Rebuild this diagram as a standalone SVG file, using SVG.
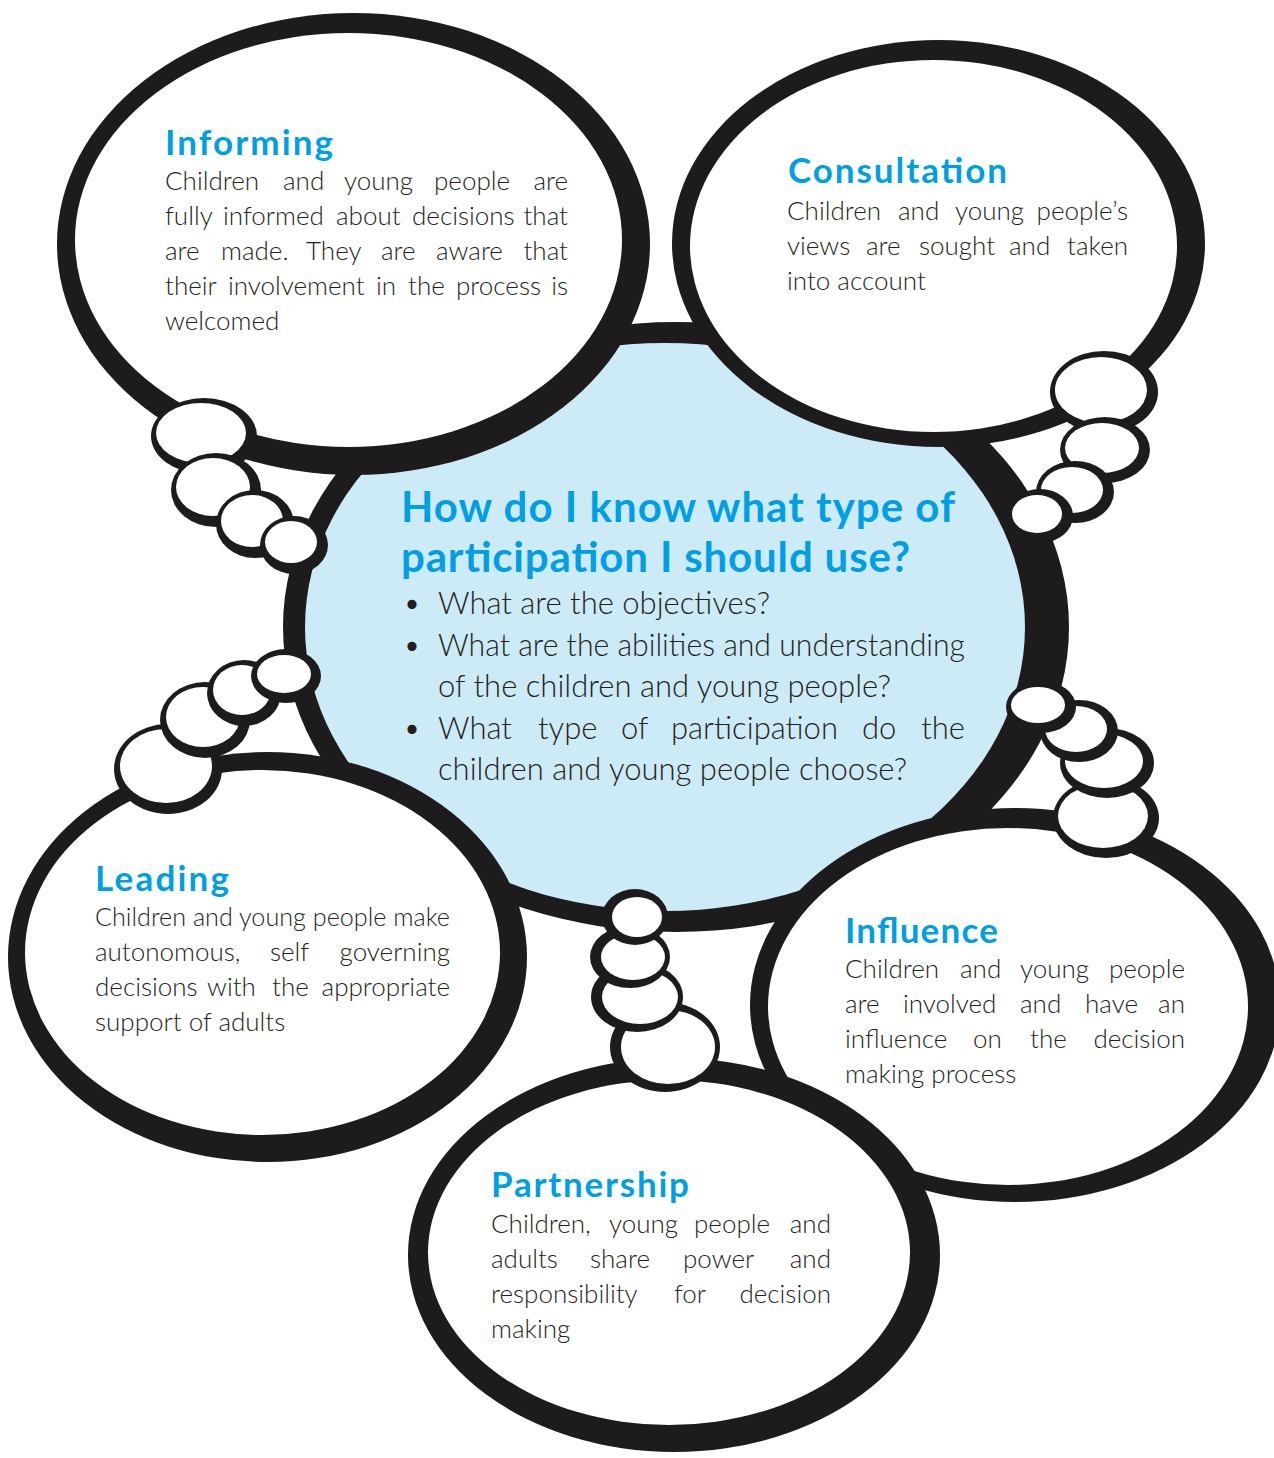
<svg xmlns="http://www.w3.org/2000/svg" width="1274" height="1458" viewBox="0 0 1274 1458">
<style>
.blk{fill:#1d1b1c}
.wht{fill:#ffffff}
.ctr{fill:#cdeaf7}
.hd{font-family:Lato,"Open Sans","Liberation Sans",sans-serif;font-weight:700;fill:#009fe3}
.bd{font-family:Lato,"Open Sans","Liberation Sans",sans-serif;font-weight:300;font-size:26px;fill:#231f20}
.bq{font-family:Lato,"Open Sans","Liberation Sans",sans-serif;font-weight:300;font-size:31px;fill:#231f20}
</style>
<rect width="1274" height="1458" fill="#ffffff"/>

<g id="central">
<ellipse class="blk" cx="676" cy="627" rx="393" ry="305"/>
<ellipse class="ctr" cx="665" cy="627" rx="360" ry="284"/>
</g>

<g id="informing">
<ellipse class="blk" cx="353.5" cy="244" rx="296.5" ry="231"/>
<ellipse class="wht" cx="348.5" cy="240" rx="273.5" ry="207"/>
</g>
<g id="consultation">
<ellipse class="blk" cx="938.5" cy="243.5" rx="266.5" ry="203.5"/>
<ellipse class="wht" cx="933.5" cy="246" rx="243.5" ry="186"/>
</g>
<g id="leading">
<ellipse class="blk" cx="267.5" cy="957" rx="259.5" ry="205"/>
<ellipse class="wht" cx="262.5" cy="952.5" rx="237.5" ry="182.5"/>
</g>
<g id="influence">
<ellipse class="blk" cx="1015" cy="1005" rx="265" ry="197"/>
<ellipse class="wht" cx="1008" cy="1006.5" rx="240" ry="178.5"/>
</g>
<g id="partnership">
<ellipse class="blk" cx="674" cy="1255" rx="266" ry="197"/>
<ellipse class="wht" cx="669" cy="1252.5" rx="241" ry="172.5"/>
</g>

<g id="connectors">
<g id="tail-informing">
<ellipse class="blk" cx="204" cy="436" rx="53" ry="38"/><ellipse class="wht" cx="201" cy="433" rx="45" ry="30"/>
<ellipse class="blk" cx="216" cy="490" rx="45" ry="37"/><ellipse class="wht" cx="213" cy="487" rx="37" ry="29"/>
<ellipse class="blk" cx="255" cy="524" rx="39" ry="34"/><ellipse class="wht" cx="252" cy="521" rx="31" ry="26"/>
<ellipse class="blk" cx="294" cy="545" rx="34" ry="29"/><ellipse class="wht" cx="291" cy="542" rx="26" ry="21"/>
</g>
<g id="tail-consultation">
<ellipse class="blk" cx="1104" cy="392" rx="54" ry="41"/><ellipse class="wht" cx="1101" cy="390" rx="46" ry="33"/>
<ellipse class="blk" cx="1105" cy="450" rx="45" ry="33"/><ellipse class="wht" cx="1102" cy="448" rx="37" ry="25"/>
<ellipse class="blk" cx="1075" cy="492" rx="39" ry="31"/><ellipse class="wht" cx="1072" cy="490" rx="31" ry="23"/>
<ellipse class="blk" cx="1040" cy="516" rx="33" ry="27"/><ellipse class="wht" cx="1037" cy="514" rx="25" ry="19"/>
</g>
<g id="tail-leading">
<ellipse class="blk" cx="168" cy="769" rx="54" ry="45"/><ellipse class="wht" cx="166" cy="766" rx="46" ry="37"/>
<ellipse class="blk" cx="205" cy="720" rx="45" ry="38"/><ellipse class="wht" cx="203" cy="717" rx="37" ry="30"/>
<ellipse class="blk" cx="244" cy="693" rx="37" ry="33"/><ellipse class="wht" cx="242" cy="690" rx="29" ry="25"/>
<ellipse class="blk" cx="286" cy="676" rx="35" ry="27"/><ellipse class="wht" cx="284" cy="674" rx="27" ry="19"/>
</g>
<g id="tail-influence">
<ellipse class="blk" cx="1106" cy="818" rx="53" ry="40"/><ellipse class="wht" cx="1103" cy="816" rx="45" ry="32"/>
<ellipse class="blk" cx="1107" cy="763" rx="47" ry="35"/><ellipse class="wht" cx="1104" cy="761" rx="39" ry="27"/>
<ellipse class="blk" cx="1079" cy="731" rx="39" ry="31"/><ellipse class="wht" cx="1076" cy="729" rx="31" ry="23"/>
<ellipse class="blk" cx="1041" cy="707" rx="35" ry="26"/><ellipse class="wht" cx="1038" cy="705" rx="27" ry="18"/>
</g>
<g id="tail-partnership">
<ellipse class="blk" cx="665" cy="1047" rx="55" ry="45"/><ellipse class="wht" cx="668" cy="1047" rx="47" ry="37"/>
<ellipse class="blk" cx="637" cy="997" rx="46" ry="35"/><ellipse class="wht" cx="640" cy="997" rx="38" ry="27"/>
<ellipse class="blk" cx="630" cy="957" rx="40" ry="31"/><ellipse class="wht" cx="633" cy="957" rx="32" ry="23"/>
<ellipse class="blk" cx="635" cy="917" rx="33" ry="28"/><ellipse class="wht" cx="637" cy="917" rx="25" ry="20"/>
</g>
</g>

<g id="text-central">
<text class="hd" x="401" y="522" font-size="42" textLength="554" lengthAdjust="spacing">How do I know what type of</text>
<text class="hd" x="401" y="572" font-size="42" textLength="509" lengthAdjust="spacing">participation I should use?</text>
<text class="bq" x="403" y="614">•</text>
<text class="bq" x="438" y="614">What are the objectives?</text>
<text class="bq" x="403" y="656">•</text>
<text class="bq" x="438" y="656" textLength="527" lengthAdjust="spacingAndGlyphs">What are the abilities and understanding</text>
<text class="bq" x="438" y="697">of the children and young people?</text>
<text class="bq" x="403" y="739">•</text>
<text class="bq" y="739"><tspan x="438">What</tspan><tspan x="538">type</tspan><tspan x="621">of</tspan><tspan x="671">participation</tspan><tspan x="862">do</tspan><tspan x="965" text-anchor="end">the</tspan></text>
<text class="bq" x="438" y="780">children and young people choose?</text>
</g>

<g id="text-informing">
<text class="hd" x="165" y="155" font-size="35" textLength="168" lengthAdjust="spacing">Informing</text>
<text class="bd" y="190"><tspan x="165">Children</tspan><tspan x="283">and</tspan><tspan x="344">young</tspan><tspan x="434">people</tspan><tspan x="568" text-anchor="end">are</tspan></text>
<text class="bd" y="225"><tspan x="165">fully</tspan><tspan x="223">informed</tspan><tspan x="336">about</tspan><tspan x="412">decisions</tspan><tspan x="568" text-anchor="end">that</tspan></text>
<text class="bd" y="260"><tspan x="165">are</tspan><tspan x="221">made.</tspan><tspan x="306">They</tspan><tspan x="381">are</tspan><tspan x="436">aware</tspan><tspan x="568" text-anchor="end">that</tspan></text>
<text class="bd" y="295"><tspan x="165">their</tspan><tspan x="228">involvement</tspan><tspan x="376">in</tspan><tspan x="408">the</tspan><tspan x="456">process</tspan><tspan x="568" text-anchor="end">is</tspan></text>
<text class="bd" x="165" y="330">welcomed</text>
</g>

<g id="text-consultation">
<text class="hd" x="788" y="183" font-size="35" textLength="219" lengthAdjust="spacing">Consultation</text>
<text class="bd" y="220"><tspan x="787">Children</tspan><tspan x="898">and</tspan><tspan x="955">young</tspan><tspan x="1128" text-anchor="end">people’s</tspan></text>
<text class="bd" y="255"><tspan x="787">views</tspan><tspan x="866">are</tspan><tspan x="919">sought</tspan><tspan x="1009">and</tspan><tspan x="1128" text-anchor="end">taken</tspan></text>
<text class="bd" x="787" y="290">into account</text>
</g>

<g id="text-leading">
<text class="hd" x="95" y="891" font-size="35" textLength="134" lengthAdjust="spacing">Leading</text>
<text class="bd" x="95" y="926" textLength="355" lengthAdjust="spacingAndGlyphs">Children and young people make</text>
<text class="bd" y="961"><tspan x="95">autonomous,</tspan><tspan x="270">self</tspan><tspan x="450" text-anchor="end">governing</tspan></text>
<text class="bd" y="996"><tspan x="95">decisions</tspan><tspan x="207">with</tspan><tspan x="272">the</tspan><tspan x="450" text-anchor="end">appropriate</tspan></text>
<text class="bd" x="95" y="1031">support of adults</text>
</g>

<g id="text-influence">
<text class="hd" x="845" y="943" font-size="35" textLength="153" lengthAdjust="spacing">Influence</text>
<text class="bd" y="978"><tspan x="845">Children</tspan><tspan x="960">and</tspan><tspan x="1020">young</tspan><tspan x="1185" text-anchor="end">people</tspan></text>
<text class="bd" y="1013"><tspan x="845">are</tspan><tspan x="903">involved</tspan><tspan x="1020">and</tspan><tspan x="1085">have</tspan><tspan x="1185" text-anchor="end">an</tspan></text>
<text class="bd" y="1048"><tspan x="845">influence</tspan><tspan x="973">on</tspan><tspan x="1030">the</tspan><tspan x="1185" text-anchor="end">decision</tspan></text>
<text class="bd" x="845" y="1083">making process</text>
</g>

<g id="text-partnership">
<text class="hd" x="491" y="1197" font-size="35" textLength="198" lengthAdjust="spacing">Partnership</text>
<text class="bd" y="1233"><tspan x="491">Children,</tspan><tspan x="609">young</tspan><tspan x="694">people</tspan><tspan x="831" text-anchor="end">and</tspan></text>
<text class="bd" y="1268"><tspan x="491">adults</tspan><tspan x="590">share</tspan><tspan x="683">power</tspan><tspan x="831" text-anchor="end">and</tspan></text>
<text class="bd" y="1303"><tspan x="491">responsibility</tspan><tspan x="674">for</tspan><tspan x="831" text-anchor="end">decision</tspan></text>
<text class="bd" x="491" y="1338">making</text>
</g>
</svg>
